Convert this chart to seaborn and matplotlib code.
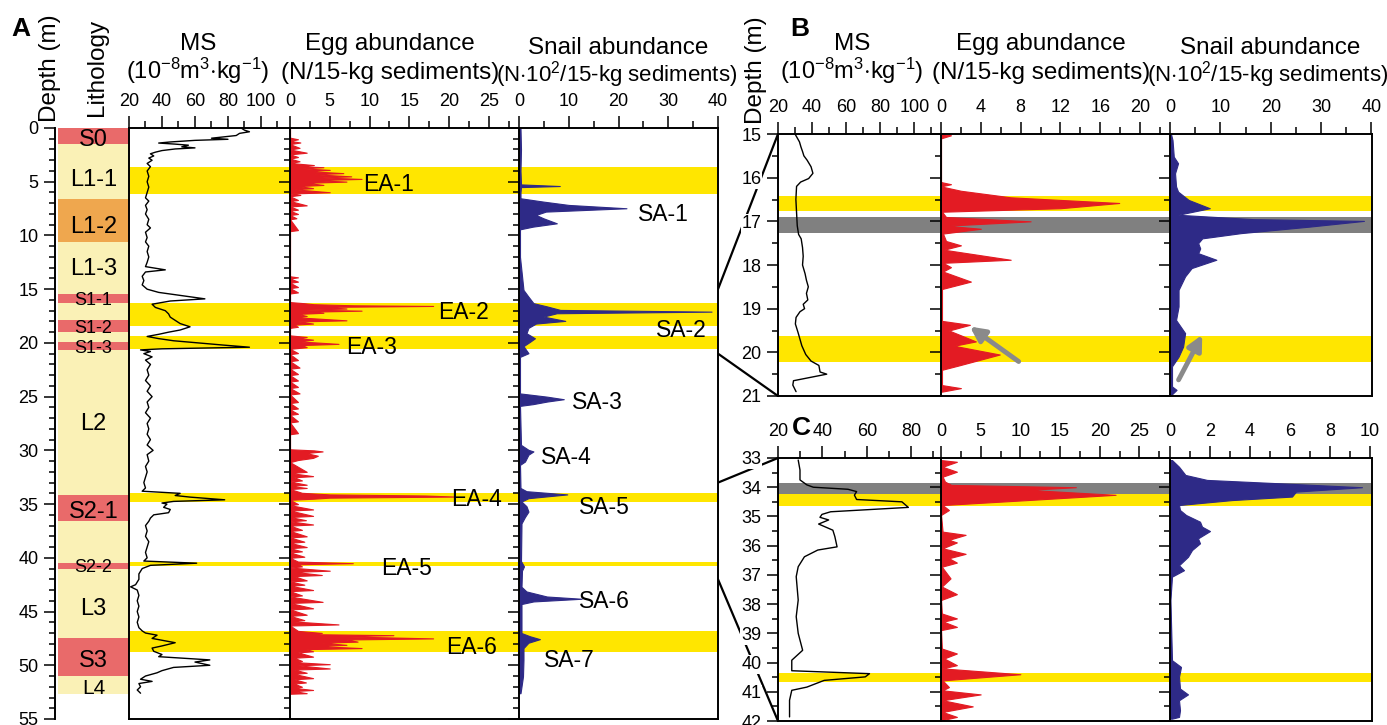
import matplotlib
matplotlib.use("Agg")
import numpy as np
import matplotlib.pyplot as plt
import seaborn as sns
from matplotlib.patches import ConnectionPatch
from matplotlib.ticker import MultipleLocator

W, H = 1387, 725

# ---------------- data: panel A (0-55 m) ----------------
lith_top = [0.0, 1.5, 6.6, 10.6, 15.45, 16.3, 17.9, 19.0, 19.9, 20.7, 34.2, 36.6, 40.45, 41.0, 47.5, 51.0]
lith_bot = [1.5, 6.6, 10.6, 15.45, 16.3, 17.9, 19.0, 19.9, 20.7, 34.2, 36.6, 40.45, 41.0, 47.5, 51.0, 52.65]
lith_kind = ["S", "L", "O", "L", "S", "L", "S", "L", "S", "L", "S", "L", "S", "L", "S", "L"]
lith_names = ["S0", "L1-1", "L1-2", "L1-3", "S1-1", "S1-2", "S1-3", "L2", "S2-1", "S2-2", "L3", "S3", "L4"]
lith_name_depth = [0.9, 4.65, 9.0, 12.9, 15.9, 18.45, 20.35, 27.3, 35.5, 40.75, 44.5, 49.4, 52.0]
lith_name_size = [17, 17, 17, 17, 13, 13, 13, 17, 17, 13, 17, 17, 15]

ms_a_depth = [0.0, 0.2, 0.35, 0.5, 0.7, 0.85, 0.95, 1.05, 1.15, 1.3, 1.4, 1.5, 1.6, 1.75, 1.85, 1.95,
              2.1, 2.25, 2.4, 2.6, 2.8, 3.0, 3.3, 3.6, 4.0, 4.5, 5.0, 5.5, 6.0, 6.5, 6.8, 7.2, 7.6,
              8.0, 8.5, 9.0, 9.3, 9.7, 10.2, 10.6, 11.0, 11.5, 12.0, 12.5, 12.9, 13.2, 13.4, 13.8,
              14.2, 14.6, 15.0, 15.3, 15.6, 15.9, 16.1, 16.4, 16.7, 17.0, 17.3, 17.6, 17.9, 18.2,
              18.5, 18.8, 19.0, 19.2, 19.4, 19.6, 19.8, 20.0, 20.2, 20.4, 20.55, 20.65, 20.8, 21.0,
              21.3, 21.6, 22.0, 22.5, 23.0, 23.5, 24.0, 24.5, 25.0, 25.5, 26.0, 26.5, 27.0, 27.5,
              28.0, 28.5, 29.0, 29.5, 30.0, 30.4, 31.0, 31.5, 32.0, 32.5, 33.0, 33.5, 33.8, 34.0,
              34.2, 34.35, 34.6, 34.75, 34.9, 35.0, 35.3, 35.5, 35.8, 36.0, 36.3, 36.6, 37.0, 37.5,
              38.0, 38.5, 39.0, 39.5, 40.0, 40.3, 40.5, 40.7, 41.0, 41.5, 42.0, 42.5, 42.7, 43.0,
              43.5, 44.0, 44.5, 45.0, 45.5, 46.0, 46.5, 46.8, 47.0, 47.2, 47.5, 47.9, 48.2, 48.4,
              48.7, 49.0, 49.2, 49.5, 49.7, 49.9, 50.0, 50.2, 50.5, 50.7, 51.0, 51.3, 51.5, 51.7,
              52.0, 52.3, 52.6]
ms_a_val = [88, 90, 93, 87, 85, 76, 70, 80, 60, 45, 38, 48, 56, 52, 60, 48,
            40, 36, 33, 35, 32, 34, 31, 33, 31, 32, 31, 32, 31, 30, 32, 30, 31,
            30, 32, 31, 33, 30, 31, 30, 32, 31, 32, 31, 30, 42, 30, 28,
            29, 28, 31, 38, 52, 66, 45, 34, 36, 42, 44, 45, 48, 51,
            57, 51, 44, 38, 31, 38, 47, 62, 77, 93, 40, 27, 33, 29,
            34, 30, 33, 31, 32, 30, 33, 31, 34, 31, 32, 30, 33, 31,
            32, 31, 33, 31, 34.6, 31, 32, 30, 31, 30, 29, 30, 28, 51,
            48, 57, 78, 47, 40, 43, 41, 45, 44, 35, 33, 32, 30, 31,
            30, 32, 31, 30, 31, 29, 61, 33, 28, 26, 26, 24, 21, 25,
            26, 25, 26, 25, 26, 25, 26, 28, 30, 37, 34, 48, 40, 34,
            35, 40, 38, 69, 60, 66, 69, 47, 40, 37, 30, 27, 34, 26,
            27, 25, 27]

egg_a_depth = [0.0, 0.9, 1.05, 1.2, 1.35, 1.5, 1.85, 2.0, 2.3, 2.45, 2.7, 2.85, 3.1, 3.25, 3.45, 3.55,
               3.65, 3.75, 3.9, 4.0, 4.2, 4.3, 4.5, 4.6, 4.74, 4.85, 4.99, 5.1, 5.3, 5.4, 5.6, 5.7,
               5.98, 6.1, 6.23, 6.35, 6.7, 6.8, 7.2, 7.3, 7.6, 7.7, 8.0, 8.1, 8.4, 8.5, 9.5, 9.6,
               13.8, 13.9, 14.0, 14.3, 14.4, 14.8, 14.9, 15.3, 15.4, 16.2, 16.3, 16.4, 16.5, 16.56,
               16.65, 16.8, 16.9, 17.0, 17.1, 17.2, 17.3, 17.5, 17.6, 17.9, 18.0, 18.2, 18.3, 18.5,
               18.6, 19.3, 19.45, 19.55, 19.7, 19.85, 20.09, 20.2, 20.4, 20.55, 20.95, 21.05, 21.6,
               21.7, 22.3, 22.4, 22.9, 23.0, 23.5, 23.6, 24.1, 24.2, 24.7, 24.8, 25.5, 25.6, 26.1,
               26.2, 26.6, 26.7, 27.3, 27.4, 28.4, 28.5, 29.9, 30.0, 30.1, 30.25, 30.5, 30.7, 30.9,
               31.1, 32.0, 32.1, 32.4, 32.5, 32.8, 32.9, 33.2, 33.3, 33.5, 33.6, 33.95, 34.1, 34.2,
               34.3, 34.4, 34.5, 34.6, 35.0, 35.1, 35.5, 35.6, 36.1, 36.2, 36.5, 36.6, 36.9, 37.0,
               37.4, 37.5, 38.0, 38.1, 38.5, 38.6, 39.0, 39.1, 39.4, 39.5, 39.9, 40.0, 40.35, 40.5,
               40.6, 40.8, 40.9, 41.2, 41.3, 41.6, 41.7, 42.1, 42.2, 42.5, 42.6, 43.0, 43.1, 43.5,
               43.6, 44.1, 44.2, 44.7, 44.8, 45.3, 45.4, 45.8, 45.9, 46.2, 46.3, 46.8, 46.99, 47.1,
               47.2, 47.3, 47.5, 47.6, 47.8, 47.9, 48.1, 48.2, 48.4, 48.5, 48.7, 48.8, 49.2, 49.3,
               49.6, 49.7, 49.9, 50.0, 50.3, 50.4, 50.7, 50.8, 51.2, 51.3, 51.6, 51.7, 52.0, 52.1,
               52.3, 52.4, 52.6, 52.65]
egg_a_val = [0, 0, 1.0, 0, 1.3, 0, 1.2, 0, 2.1, 0, 1.0, 0, 1.2, 0, 3.0, 1.0,
             4.2, 1.5, 5.0, 2.0, 6.7, 3.0, 7.7, 4.0, 9.0, 3.0, 7.1, 2.0, 4.2, 1.0, 2.9, 0.5,
             5.0, 0, 1.3, 0, 1.0, 0, 2.1, 0, 1.0, 0, 1.0, 0, 0.8, 0, 1.0, 0,
             0, 1.0, 0, 1.0, 0, 1.0, 0, 1.0, 0, 0, 1.7, 3.0, 8.0, 18.0,
             4.0, 7.1, 2.0, 9.0, 2.0, 4.2, 1.0, 2.1, 0.5, 7.1, 1.0, 2.9, 0.5, 1.0,
             0, 0, 2.1, 1.0, 2.9, 1.0, 6.1, 1.5, 2.1, 0, 1.0, 0, 1.0,
             0, 1.2, 0, 1.0, 0, 1.0, 0, 1.0, 0, 1.2, 0, 1.0, 0, 1.0,
             0, 1.0, 0, 1.0, 0, 1.0, 0, 0, 3.0, 4.1, 2.0, 3.5, 2.9, 1.0,
             0, 2.1, 0, 2.9, 0.5, 1.5, 0, 2.1, 0, 2.1, 0, 1.5, 5.0, 17.0,
             20.7, 5.0, 2.9, 0, 1.0, 0, 2.9, 0, 2.9, 0, 2.0, 0, 2.9, 0,
             1.5, 0, 2.1, 0, 1.8, 0, 2.1, 0, 1.5, 0, 1.8, 0, 1.0, 7.9,
             1.0, 1.5, 0, 5.0, 0.5, 4.0, 0.5, 2.1, 0, 1.8, 0, 2.9, 0, 1.5,
             0, 4.1, 0, 2.9, 0, 2.1, 0, 1.8, 0, 6.1, 0, 1.0, 4.0, 2.0,
             13.0, 6.0, 18.0, 7.0, 8.5, 4.0, 7.1, 3.0, 9.0, 2.0, 2.9, 1.0, 2.9, 0.5,
             1.5, 0.5, 5.0, 1.0, 5.0, 0.5, 2.1, 0.5, 2.9, 0.5, 2.0, 0.5, 1.5, 0.5,
             2.9, 0.5, 2.1, 0]

snail_a_depth = [0.0, 2.0, 4.0, 5.25, 5.4, 5.5, 6.0, 6.54, 6.85, 7.16, 7.47, 7.78, 8.09, 8.4, 8.87,
                 9.18, 9.43, 12.0, 15.07, 15.7, 16.3, 16.6, 16.93, 17.09, 17.24, 17.55, 17.95, 18.2,
                 18.6, 19.1, 19.57, 19.9, 20.3, 20.96, 21.3, 24.7, 25.0, 25.24, 25.46, 25.7, 25.86,
                 29.49, 29.95, 30.1, 30.4, 31.04, 31.35, 33.5, 33.8, 34.1, 34.45, 34.76, 35.2, 35.7,
                 36.2, 36.8, 40.3, 40.8, 41.2, 42.7, 43.13, 43.6, 43.81, 44.06, 44.3, 47.0, 47.3,
                 47.57, 47.9, 48.4, 49.5, 51.03, 52.3, 52.6]
snail_a_val = [0.3, 0.4, 0.3, 0.4, 8.2, 0.4, 0.3, 0.3, 4.9, 10.0, 21.6, 5.4, 3.4, 4.9, 7.6,
               2.8, 0.2, 0.2, 0.9, 1.9, 2.9, 5.6, 8.3, 38.7, 7.6, 4.9, 9.3, 3.4,
               1.9, 1.5, 3.2, 2.2, 0.9, 1.9, 0.2, 0.2, 5.6, 9.0, 5.6, 2.8, 0.2,
               0.4, 1.9, 2.9, 1.9, 1.2, 0.2, 0.3, 1.5, 9.7, 1.9, 0.5, 1.5, 1.9,
               1.2, 0.5, 0.4, 1.0, 0.6, 0.5, 1.5, 5.6, 12.6, 2.9, 0.5, 0.5, 2.2,
               4.2, 1.9, 0.9, 0.9, 0.8, 0.4, 0.3]

bands_a = [(3.6, 6.1), (16.3, 18.45), (19.4, 20.55), (34.0, 34.85), (40.4, 40.8), (46.85, 48.75)]

ea_names = ["EA-1", "EA-2", "EA-3", "EA-4", "EA-5", "EA-6"]
ea_x = [9.2, 18.6, 7.0, 20.3, 11.4, 19.6]
ea_y = [5.0, 16.9, 20.2, 34.3, 40.8, 48.1]
sa_names = ["SA-1", "SA-2", "SA-3", "SA-4", "SA-5", "SA-6", "SA-7"]
sa_x = [23.9, 27.5, 10.7, 4.4, 12.1, 12.1, 5.0]
sa_y = [7.8, 18.6, 25.3, 30.4, 35.1, 43.8, 49.3]

# ---------------- data: panel B (15-21 m) ----------------
ms_b_depth = [15.0, 15.18, 15.3, 15.4, 15.5, 15.6, 15.75, 15.9, 16.02, 16.1, 16.2, 16.5, 16.8, 17.1,
              17.3, 17.4, 17.6, 17.8, 18.0, 18.2, 18.35, 18.5, 18.65, 18.8, 18.9, 19.0, 19.07, 19.2,
              19.35, 19.55, 19.85, 20.05, 20.2, 20.3, 20.45, 20.5, 20.65, 20.75, 20.9]
ms_b_val = [30.0, 32.6, 33.5, 34.4, 35.2, 37.1, 39.4, 40.5, 38.0, 33.3, 30.9, 30.5, 30.9, 31.3,
            32.1, 33.6, 34.4, 34.8, 34.4, 35.9, 36.7, 37.8, 36.7, 37.5, 34.8, 35.6, 32.9, 30.6,
            30.2, 31.8, 34.0, 36.3, 39.4, 44.0, 44.7, 48.6, 29.1, 28.7, 30.6]
egg_b_depth = [15.0, 15.03, 15.1, 16.1, 16.15, 16.2, 16.3, 16.45, 16.58, 16.7, 16.78, 16.9, 17.0,
               17.1, 17.17, 17.28, 17.45, 17.55, 17.65, 17.88, 17.95, 18.05, 18.15, 18.38, 18.55,
               19.28, 19.37, 19.5, 19.75, 19.85, 20.05, 20.3, 20.4, 20.75, 20.82, 20.9]
egg_b_val = [0, 1.0, 0, 0, 1.0, 0, 2.0, 7.0, 17.9, 12.0, 0.1, 0.5, 9.0,
             0.5, 4.0, 0.2, 0.5, 2.0, 0.3, 7.0, 0.2, 1.0, 0.2, 3.0, 0.1,
             0.1, 2.9, 0.8, 3.5, 1.3, 5.9, 1.8, 0.1, 0.1, 2.0, 0.1]
snail_b_depth = [15.0, 15.14, 15.52, 15.67, 15.9, 16.2, 16.32, 16.51, 16.7, 16.85, 16.95, 16.99,
                 17.12, 17.27, 17.39, 17.5, 17.62, 17.73, 17.88, 18.07, 18.26, 18.57, 18.95, 19.26,
                 19.56, 19.87, 20.1, 20.32, 20.78, 20.86, 20.97]
snail_b_val = [0.2, 0.5, 0.75, 1.6, 1.0, 1.2, 1.6, 3.7, 7.9, 1.6, 16.6, 38.5,
               27.8, 14.1, 6.4, 5.6, 6.0, 5.6, 9.2, 4.3, 3.0, 1.7, 1.7, 1.2,
               3.0, 2.6, 1.7, 0.4, 0.4, 1.3, 0.3]
yellow_b = [(16.42, 16.76), (19.62, 20.23)]
gray_b = [(16.91, 17.26)]

# ---------------- data: panel C (33-42 m) ----------------
ms_c_depth = [33.07, 33.41, 33.75, 33.92, 34.0, 34.07, 34.15, 34.27, 34.42, 34.5, 34.69, 34.84,
              34.93, 35.03, 35.12, 35.26, 35.47, 35.69, 36.04, 36.15, 36.38, 36.72, 37.06, 37.86,
              38.43, 39.0, 39.58, 39.92, 40.28, 40.38, 40.49, 40.61, 40.84, 40.95, 41.29, 41.86]
ms_c_val = [29.1, 29.9, 29.9, 33.0, 35.9, 51.5, 55.4, 54.4, 55.4, 75.8, 78.7, 43.7,
            39.8, 38.9, 42.8, 38.3, 44.7, 45.6, 46.6, 37.9, 31.9, 29.1, 28.2, 29.1,
            28.2, 29.1, 31.1, 26.2, 26.2, 61.2, 59.3, 40.8, 33.0, 26.2, 25.2, 25.2]
egg_c_depth = [33.07, 33.13, 33.3, 33.47, 33.64, 33.81, 33.92, 34.0, 34.09, 34.26, 34.44, 34.61,
               34.78, 34.95, 35.52, 35.63, 35.8, 35.89, 36.09, 36.28, 36.43, 36.58, 36.72, 37.12,
               37.4, 37.66, 37.86, 38.32, 38.49, 38.6, 38.78, 38.89, 39.52, 39.69, 39.86, 40.09,
               40.2, 40.4, 40.61, 40.84, 40.95, 41.09, 41.29, 41.5, 41.69, 41.86, 41.98]
egg_c_val = [0, 2.0, 0.2, 2.0, 0.2, 0.5, 1.3, 17.0, 10.9, 22.0, 10.9, 0.2,
             1.0, 0, 0.2, 3.1, 1.0, 2.0, 0.2, 3.1, 1.0, 2.0, 0.1, 1.2,
             0.1, 2.0, 0, 0.1, 2.0, 0.3, 2.0, 0, 0.1, 2.0, 0.4, 2.0,
             0.2, 10.0, 0.2, 1.0, 0.2, 5.0, 0.2, 4.0, 0.2, 2.0, 0]
snail_c_depth = [33.07, 33.3, 33.58, 33.75, 33.86, 34.0, 34.15, 34.32, 34.44, 34.61, 34.78, 34.95,
                 35.18, 35.35, 35.5, 35.75, 35.92, 36.15, 36.38, 36.67, 36.84, 37.06, 37.86, 39.92,
                 40.15, 40.49, 40.89, 41.09, 41.29, 41.63, 41.86, 41.92]
snail_c_val = [0.1, 0.45, 0.77, 1.85, 5.3, 9.6, 6.3, 6.1, 3.1, 0.45, 0.5, 0.8,
               1.5, 1.6, 2.0, 1.4, 1.5, 1.1, 0.9, 0.45, 0.7, 0.1, 0.02, 0.1,
               0.55, 0.45, 0.5, 0.9, 0.45, 0.5, 0.45, 0.1]
yellow_c = [(34.23, 34.64), (40.35, 40.66)]
gray_c = [(33.85, 34.23)]

# ---------------- style ----------------
RED = "#E31B23"
NAVY = "#2E2A87"
YEL = "#FFE600"
GRAY = "#808080"
LITH_COL = {"S": "#E96A6A", "L": "#FAF1B6", "O": "#EFA74E"}

sns.set_theme(style="ticks")
plt.rcParams["font.family"] = ["Liberation Sans", "DejaVu Sans"]
plt.rcParams["mathtext.fontset"] = "custom"
plt.rcParams["mathtext.rm"] = "Liberation Sans"
plt.rcParams["mathtext.it"] = "Liberation Sans:italic"
plt.rcParams["mathtext.bf"] = "Liberation Sans:bold"
plt.rcParams["text.color"] = "black"
plt.rcParams["xtick.color"] = "black"
plt.rcParams["ytick.color"] = "black"
plt.rcParams["xtick.labelcolor"] = "black"
plt.rcParams["ytick.labelcolor"] = "black"

fig = plt.figure(figsize=(W / 100, H / 100), dpi=100)


def box(x0, x1, y0, y1):
    return fig.add_axes([x0 / W, 1 - y1 / H, (x1 - x0) / W, (y1 - y0) / H])


def px(x, y):
    return x / W, 1 - y / H


def style(ax, xlim, xmaj, xmin, ylim, ymaj, ymin, yticks=True, ylabels=False, right=False):
    ax.set_xlim(*xlim)
    ax.set_ylim(*ylim)
    ax.set_xlabel("")
    ax.set_ylabel("")
    ax.xaxis.set_major_locator(MultipleLocator(xmaj))
    ax.xaxis.set_minor_locator(MultipleLocator(xmin))
    ax.yaxis.set_major_locator(MultipleLocator(ymaj))
    ax.yaxis.set_minor_locator(MultipleLocator(ymin))
    ax.xaxis.tick_top()
    ax.tick_params(axis="x", which="both", top=True, bottom=False, labeltop=True,
                   labelbottom=False, direction="out", color="black", labelcolor="black",
                   width=1.1, labelsize=13, pad=4)
    ax.tick_params(axis="x", which="major", length=9)
    ax.tick_params(axis="x", which="minor", length=5)
    ax.tick_params(axis="y", which="both", left=yticks, right=False, labelleft=ylabels,
                   direction="out", color="black", labelcolor="black", width=1.1, labelsize=13, pad=4)
    ax.tick_params(axis="y", which="major", length=8)
    ax.tick_params(axis="y", which="minor", length=4.5)
    ax.grid(False)
    for s in ax.spines.values():
        s.set_color("black")
        s.set_linewidth(1.4)
    ax.spines["right"].set_visible(right)


def bands(axes, spans, color):
    for ax in axes:
        for a, b in spans:
            ax.axhspan(a, b, color=color, lw=0, zorder=0.5)


def ms_curve(ax, depth, val):
    sns.lineplot(x=val, y=depth, orient="y", sort=False, estimator=None,
                 color="black", lw=1.0, ax=ax)


def fill(ax, depth, val, color):
    ax.fill_betweenx(depth, 0, val, facecolor=color, edgecolor=color, lw=0.8, zorder=2)


# ---------------- panel A ----------------
axL = box(58, 129, 128, 719)
lt = np.array(lith_top)
lb = np.array(lith_bot)
axL.barh(y=(lt + lb) / 2, width=1, height=lb - lt, left=0,
         color=[LITH_COL[k] for k in lith_kind], edgecolor="none")
axL.set_xlim(0, 1)
axL.set_ylim(55, 0)
axL.yaxis.set_major_locator(MultipleLocator(5))
axL.yaxis.set_minor_locator(MultipleLocator(1))
axL.tick_params(axis="y", which="both", direction="out", color="black", labelcolor="black",
                width=1.1, labelsize=13, pad=4)
axL.tick_params(axis="y", which="major", length=8)
axL.tick_params(axis="y", which="minor", length=4.5)
axL.tick_params(axis="x", which="both", bottom=False, labelbottom=False)
for k in ["top", "right", "bottom"]:
    axL.spines[k].set_visible(False)
axL.spines["left"].set_position(("outward", 2.2))
axL.spines["left"].set_color("black")
axL.spines["left"].set_linewidth(1.4)
for name, d, fs in zip(lith_names, lith_name_depth, lith_name_size):
    axL.text(0.5, d, name, ha="center", va="center_baseline", fontsize=fs, color="black")

axMA = box(129, 290, 128, 719)
axEA = box(290, 519, 128, 719)
axSA = box(519, 718, 128, 719)
bands([axMA, axEA, axSA], bands_a, YEL)
ms_curve(axMA, ms_a_depth, ms_a_val)
fill(axEA, egg_a_depth, egg_a_val, RED)
fill(axSA, snail_a_depth, snail_a_val, NAVY)
style(axMA, (20, 117.6), 20, 10, (55, 0), 5, 1, yticks=False)
style(axEA, (0, 28.8), 5, 2.5, (55, 0), 5, 1)
style(axSA, (0, 40), 10, 5, (55, 0), 5, 1, right=True)

for n, x, y in zip(ea_names, ea_x, ea_y):
    axEA.text(x, y, n, ha="left", va="center_baseline", fontsize=16.5, color="black",
              clip_on=False, zorder=6)
for n, x, y in zip(sa_names, sa_x, sa_y):
    axSA.text(x, y, n, ha="left", va="center_baseline", fontsize=16.5, color="black",
              clip_on=False, zorder=6)

# ---------------- panel B ----------------
axMB = box(778, 941, 134, 396)
axEB = box(941, 1170, 134, 396)
axSB = box(1170, 1372, 134, 396)
bands([axMB, axEB, axSB], yellow_b, YEL)
bands([axMB, axEB, axSB], gray_b, GRAY)
ms_curve(axMB, ms_b_depth, ms_b_val)
fill(axEB, egg_b_depth, egg_b_val, RED)
fill(axSB, snail_b_depth, snail_b_val, NAVY)
style(axMB, (20, 115.7), 20, 10, (21, 15), 1, 0.5, ylabels=True)
style(axEB, (0, 23.0), 4, 2, (21, 15), 1, 0.5)
style(axSB, (0, 40.1), 10, 5, (21, 15), 1, 0.5, right=True)
arrow = dict(arrowstyle="-|>", color="#8a8a8a", lw=3.5, mutation_scale=22, shrinkA=0, shrinkB=0)
axEB.annotate("", xy=(2.9, 19.41), xytext=(7.8, 20.21), arrowprops=arrow, zorder=6)
axSB.annotate("", xy=(6.4, 19.6), xytext=(1.7, 20.63), arrowprops=arrow, zorder=6)

# ---------------- panel C ----------------
axMC = box(778, 941, 458, 721)
axEC = box(941, 1170, 458, 721)
axSC = box(1170, 1372, 458, 721)
bands([axMC, axEC, axSC], gray_c, GRAY)
bands([axMC, axEC, axSC], yellow_c, YEL)
ms_curve(axMC, ms_c_depth, ms_c_val)
fill(axEC, egg_c_depth, egg_c_val, RED)
fill(axSC, snail_c_depth, snail_c_val, NAVY)
style(axMC, (20, 93.4), 20, 10, (42, 33), 1, 0.5, ylabels=True)
style(axEC, (0, 28.86), 5, 2.5, (42, 33), 1, 0.5)
style(axSC, (0, 10.1), 2, 1, (42, 33), 1, 0.5, right=True)

for ax in (axMB, axMC):
    for lab in ax.get_yticklabels():
        lab.set_bbox(dict(facecolor="white", edgecolor="none", pad=0.5))

# ---------------- zoom connectors ----------------
for axB, ya, yb in [(axMB, 15, 15), (axMB, 21, 21), (axMC, 33, 33), (axMC, 42, 42)]:
    con = ConnectionPatch(xyA=(40, ya), coordsA=axSA.transData, xyB=(20, yb), coordsB=axB.transData,
                          color="black", lw=1.6, zorder=-1)
    fig.add_artist(con)

# ---------------- titles and panel letters ----------------
unit_ms = r"(10$^{\mathrm{-8}}$m$^{\mathrm{3}}$$\cdot$kg$^{\mathrm{-1}}$)"
unit_snail = r"(N$\cdot$10$^{\mathrm{2}}$/15-kg sediments)"
for cx_ms, cx_egg, cx_sn, sub_sn in [(198, 390, 618, 617), (852, 1041, 1270, 1268)]:
    fig.text(*px(cx_ms, 50), "MS", ha="center", va="baseline", fontsize=17.5)
    fig.text(*px(cx_ms, 79), unit_ms, ha="center", va="baseline", fontsize=17)
    fig.text(*px(cx_egg, 50), "Egg abundance", ha="center", va="baseline", fontsize=17.5)
    fig.text(*px(cx_egg, 79), "(N/15-kg sediments)", ha="center", va="baseline", fontsize=17.5)
    fig.text(*px(cx_sn, 54), "Snail abundance", ha="center", va="baseline", fontsize=17.5)
    fig.text(*px(sub_sn, 81), unit_snail, ha="center", va="baseline", fontsize=16)

fig.text(*px(50, 68), "Depth (m)", rotation=90, ha="center", va="center", fontsize=17.5)
fig.text(*px(97, 67), "Lithology", rotation=90, ha="center", va="center", fontsize=17.5)
fig.text(*px(756, 70), "Depth (m)", rotation=90, ha="center", va="center", fontsize=17.5)
fig.text(*px(21, 29), "A", ha="center", va="center", fontsize=19, fontweight="bold")
fig.text(*px(800, 29), "B", ha="center", va="center", fontsize=19, fontweight="bold")
fig.text(*px(801, 428), "C", ha="center", va="center", fontsize=19, fontweight="bold", zorder=10)

fig.savefig("out.png", dpi=100)
